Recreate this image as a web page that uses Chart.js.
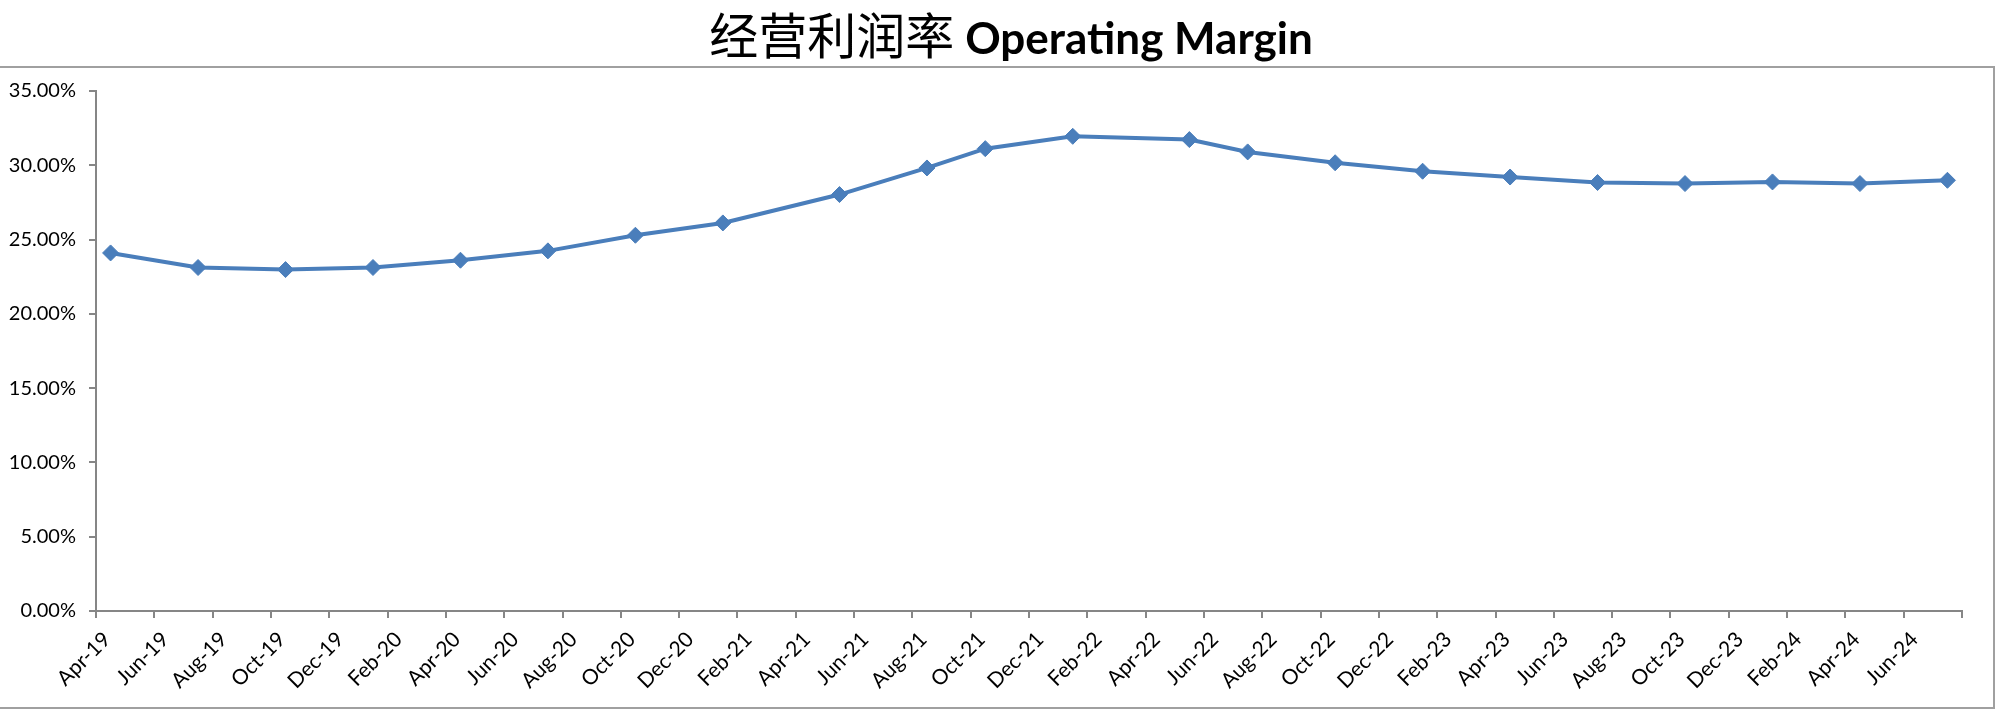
<!DOCTYPE html>
<html>
<head>
<meta charset="utf-8">
<script src="https://cdn.jsdelivr.net/npm/chart.js@4.4.1/dist/chart.umd.min.js"></script>
<style>
  html, body { margin: 0; padding: 0; background: #fff; }
  canvas { display: block; }
</style>
</head>
<body>
<canvas id="chart" width="2000" height="717"></canvas>
<script>
// quarter-ish report dates
const periods = ["2019-04","2019-07","2019-10","2020-01","2020-04","2020-07","2020-10",
  "2021-01","2021-05","2021-08","2021-10","2022-01","2022-05","2022-07","2022-10",
  "2023-01","2023-04","2023-07","2023-10","2024-01","2024-04","2024-07"];
// operating margin, %
const margin = [24.10, 23.12, 22.98, 23.12, 23.61, 24.24, 25.29,
  26.12, 28.03, 29.82, 31.12, 31.95, 31.73, 30.90, 30.17,
  29.60, 29.21, 28.84, 28.77, 28.88, 28.77, 28.99];
// x axis labels, one every two months from Apr-19
const tickLabels = ["Apr-19","Jun-19","Aug-19","Oct-19","Dec-19",
  "Feb-20","Apr-20","Jun-20","Aug-20","Oct-20","Dec-20",
  "Feb-21","Apr-21","Jun-21","Aug-21","Oct-21","Dec-21",
  "Feb-22","Apr-22","Jun-22","Aug-22","Oct-22","Dec-22",
  "Feb-23","Apr-23","Jun-23","Aug-23","Oct-23","Dec-23",
  "Feb-24","Apr-24","Jun-24"];
const yTicks = [0, 5, 10, 15, 20, 25, 30, 35];

const startYear = 2019, startMonth = 4;
function monthsFromStart(p) {
  const [y, m] = p.split("-").map(Number);
  return (y - startYear) * 12 + (m - startMonth);
}
// Excel date axis: each month is a slot, point sits in the middle of it
const points = periods.map((p, i) => ({ x: monthsFromStart(p) + 0.5, y: margin[i] }));

const axisGray = "#868686";
const blue = "#4a7ebb";

const frame = {
  id: "frame",
  beforeDraw(chart) {
    const ctx = chart.ctx;
    ctx.save();
    ctx.fillStyle = "#fff";
    ctx.fillRect(0, 0, chart.width, chart.height);
    ctx.strokeStyle = "#a0a0a0";
    ctx.lineWidth = 2;
    ctx.strokeRect(-2, 67, 1996, 641);

    // title: chinese part + bold english part
    const zh = "经营利润率 ", en = "Operating Margin";
    const zhFont = "400 49px 'Noto Sans CJK SC'";
    const enFont = "700 44px Lato";
    ctx.font = zhFont;
    const wz = ctx.measureText(zh).width;
    ctx.font = enFont;
    const we = ctx.measureText(en).width;
    let x = 1011 - (wz + we) / 2;
    ctx.fillStyle = "#000";
    ctx.textBaseline = "alphabetic";
    ctx.textAlign = "left";
    ctx.font = zhFont;
    ctx.fillText(zh, x, 54);
    ctx.font = enFont;
    ctx.fillText(en, x + wz, 54);
    ctx.restore();
  }
};

new Chart(document.getElementById("chart"), {
  type: "line",
  data: {
    datasets: [{
      label: "Operating Margin",
      data: points,
      borderColor: blue,
      backgroundColor: blue,
      borderWidth: 4,
      tension: 0,
      pointStyle: "rectRot",
      pointRadius: 8,
      pointBorderWidth: 1,
      pointBackgroundColor: blue,
      pointBorderColor: blue
    }]
  },
  options: {
    responsive: false,
    animation: false,
    devicePixelRatio: 1,
    layout: { padding: { top: 91, right: 38, left: 0, bottom: 0 } },
    plugins: {
      legend: { display: false },
      title: { display: false },
      tooltip: { enabled: false }
    },
    scales: {
      x: {
        type: "linear",
        min: 0,
        max: tickLabels.length * 2,
        afterFit(s) { s.height = 106; },
        grid: { drawOnChartArea: false, drawTicks: true, tickLength: 7, color: axisGray, lineWidth: 2 },
        border: { display: true, color: axisGray, width: 2 },
        ticks: {
          stepSize: 2,
          autoSkip: false,
          maxRotation: 45,
          minRotation: 45,
          labelOffset: 11,
          padding: 9,
          color: "#000",
          font: { family: "Lato", size: 21 },
          callback: v => tickLabels[v / 2] || ""
        }
      },
      y: {
        min: yTicks[0],
        max: yTicks[yTicks.length - 1],
        afterFit(s) { s.width = 96; },
        grid: { drawOnChartArea: false, drawTicks: true, tickLength: 7, color: axisGray, lineWidth: 2 },
        border: { display: true, color: axisGray, width: 2 },
        ticks: {
          stepSize: 5,
          padding: 13,
          color: "#000",
          font: { family: "Lato", size: 20 },
          callback: v => v.toFixed(2) + "%"
        }
      }
    }
  },
  plugins: [frame]
});
</script>
</body>
</html>
